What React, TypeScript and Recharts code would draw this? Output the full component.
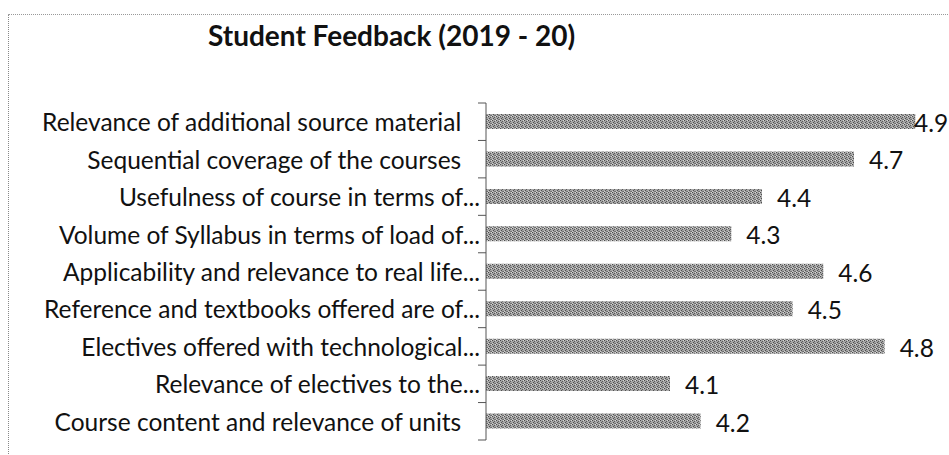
import { BarChart, Bar, XAxis, YAxis, LabelList } from 'recharts';

// categories top to bottom, as in the source sheet (trailing spaces kept)
const categories = [
  'Relevance of additional source material   ',
  'Sequential coverage of the courses   ',
  'Usefulness of course in terms of...',
  'Volume of Syllabus in terms of load of...',
  'Applicability and relevance to real life...',
  'Reference and textbooks offered are of...',
  'Electives offered with technological...',
  'Relevance of electives to the...',
  'Course content and relevance of units   ',
];
const scores = [4.9, 4.7, 4.4, 4.3, 4.6, 4.5, 4.8, 4.1, 4.2];
const axisDomain: [number, number] = [3.5, 5];

const data = categories.map((name, i) => ({ name, score: scores[i] }));

const W = 949;
const H = 455;
const MARGIN = { top: 103, right: 3, bottom: 15, left: 0 };
const AXIS_W = 486;
const BAND = (H - MARGIN.top - MARGIN.bottom) / categories.length;
const FONT = 'Lato, "Open Sans", sans-serif';
const TEXT_SIZE = 24.5;

function CategoryTick({ x, y, payload, index }: any) {
  const last = index === categories.length - 1;
  return (
    <g>
      <text
        x={x - 6}
        y={y}
        textAnchor="end"
        dominantBaseline="central"
        fontSize={TEXT_SIZE}
        fontFamily={FONT}
        fill="#111"
        style={{ whiteSpace: 'pre' }}
      >
        {payload.value}
      </text>
      <line x1={x - 8} x2={x} y1={y - BAND / 2} y2={y - BAND / 2} stroke="#555" />
      {last && <line x1={x - 8} x2={x} y1={y + BAND / 2} y2={y + BAND / 2} stroke="#555" />}
    </g>
  );
}

function ValueLabel({ x, y, width, height, value }: any) {
  // Excel pulls the label back inside the chart area when it would overflow
  const lx = Math.min(x + width + 15, 914);
  return (
    <text
      x={lx}
      y={y + height / 2 + 1}
      dominantBaseline="central"
      fontSize={TEXT_SIZE}
      fontFamily={FONT}
      fill="#111"
    >
      {value}
    </text>
  );
}

export default function App() {
  return (
    <div style={{ position: 'absolute', left: 0, top: 0, width: W, height: H, background: '#fff', overflow: 'hidden' }}>
      <div
        style={{
          position: 'absolute', left: 8, top: 14, width: W, height: H,
          borderLeft: '1px dotted #888', borderTop: '1px dotted #999',
        }}
      />
      <div
        style={{
          position: 'absolute', left: 208, top: 21, fontFamily: FONT, fontWeight: 700,
          fontSize: 28, lineHeight: '28px', color: '#111', whiteSpace: 'nowrap',
        }}
      >
        Student Feedback (2019 - 20)
      </div>
      <BarChart
        width={W}
        height={H}
        data={data}
        layout="vertical"
        margin={MARGIN}
        barSize={15}
        style={{ position: 'absolute', left: 0, top: 0 }}
      >
        <defs>
          <pattern id="barTexture" width="4" height="4" patternUnits="userSpaceOnUse">
            <rect width="4" height="4" fill="#a6a6a6" />
            <rect x="0" y="0" width="1" height="1" fill="#4a4a4a" />
            <rect x="2" y="1" width="1" height="1" fill="#5a5a5a" />
            <rect x="1" y="2" width="1" height="1" fill="#505050" />
            <rect x="3" y="3" width="1" height="1" fill="#6a6a6a" />
            <rect x="2" y="3" width="1" height="1" fill="#777" />
            <rect x="3" y="0" width="1" height="1" fill="#d6d6d6" />
            <rect x="0" y="3" width="1" height="1" fill="#cfcfcf" />
          </pattern>
        </defs>
        <XAxis type="number" domain={axisDomain} hide allowDataOverflow />
        <YAxis
          type="category"
          dataKey="name"
          width={AXIS_W}
          axisLine={{ stroke: '#555' }}
          tickLine={false}
          tickSize={0}
          tickMargin={0}
          interval={0}
          tick={<CategoryTick />}
        />
        <Bar dataKey="score" fill="url(#barTexture)" isAnimationActive={false}>
          <LabelList dataKey="score" content={<ValueLabel />} />
        </Bar>
      </BarChart>
    </div>
  );
}
